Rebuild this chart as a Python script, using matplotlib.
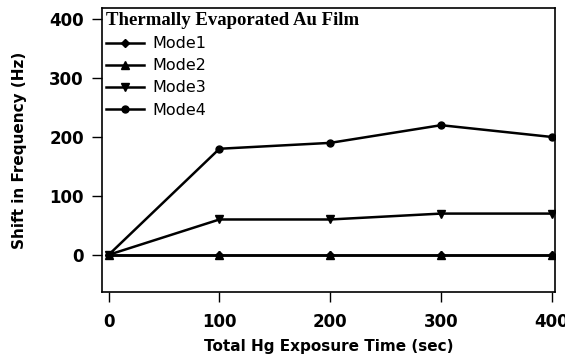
import matplotlib
matplotlib.use("Agg")
import matplotlib.pyplot as plt

times = [0, 100, 200, 300, 400]
mode1 = [0, 0, 0, 0, 0]
mode2 = [0, 0, 0, 0, 0]
mode3 = [0, 60, 60, 70, 70]
mode4 = [0, 180, 190, 220, 200]
labels = ["Mode1", "Mode2", "Mode3", "Mode4"]
xticks = [0, 100, 200, 300, 400]
yticks = [0, 100, 200, 300, 400]

fig = plt.figure(figsize=(5.65, 3.6), dpi=100)
ax = fig.add_axes([0.1805, 0.189, 0.802, 0.789])

markers = ["D", "^", "v", "o"]
sizes = [4.5, 6, 6, 5]
for vals, lab, m, s in zip([mode1, mode2, mode3, mode4], labels, markers, sizes):
    ax.plot(times, vals, color="black", lw=1.8, marker=m, ms=s, label=lab)

ax.set_xlim(-6, 403)
ax.set_ylim(-63, 419)
ax.set_xticks(xticks)
ax.set_yticks(yticks)
ax.tick_params(axis="both", direction="out", length=7, width=1, pad=6)
ax.tick_params(axis="x", pad=8)
for lab in ax.get_xticklabels() + ax.get_yticklabels():
    lab.set_fontweight("bold")
    lab.set_fontsize(12)
for sp in ax.spines.values():
    sp.set_linewidth(1.2)

ax.set_xlabel("Total Hg Exposure Time (sec)", fontsize=11, fontweight="bold", labelpad=6)
ax.set_ylabel("Shift in Frequency (Hz)", fontsize=11, fontweight="bold", labelpad=16)

leg = ax.legend(loc="upper left", frameon=False, fontsize=11.5,
                title="Thermally Evaporated Au Film",
                title_fontproperties={"family": "Liberation Serif", "weight": "bold", "size": 13.5},
                handlelength=2.4, handletextpad=0.5, labelspacing=0.45,
                borderaxespad=0.1, borderpad=0.15)
leg._legend_box.align = "left"

fig.savefig("out.png", dpi=100)
